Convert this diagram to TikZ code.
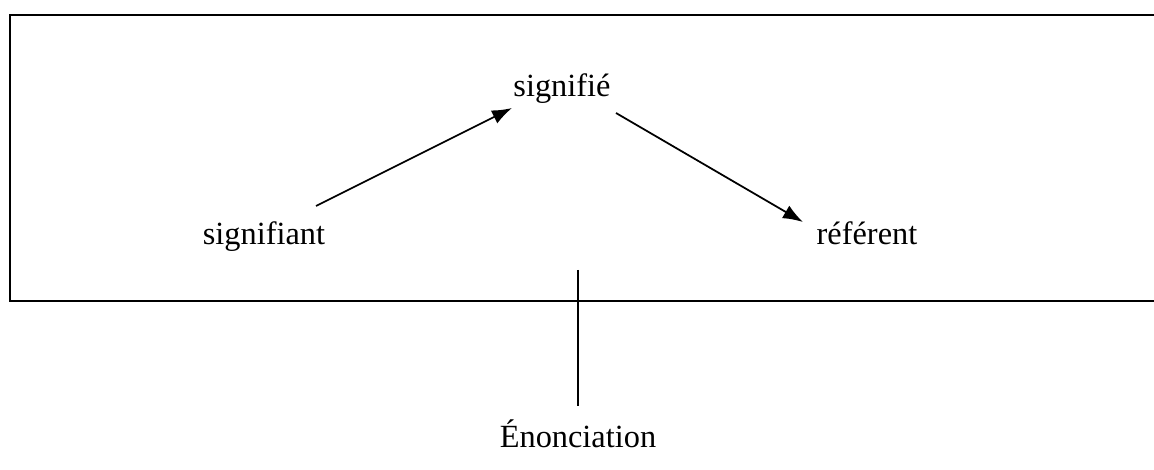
\documentclass[tikz,border=0pt]{standalone}
\usepackage{fontspec}
\setmainfont{Liberation Serif}
\usetikzlibrary{arrows.meta}

\tikzset{
  mot/.style={anchor=base, inner sep=0pt, font=\fontsize{9.2}{11}\selectfont},
  fleche/.style={line width=0.5pt, -{Latex[length=2mm, width=1.45mm]}},
  trait/.style={line width=0.6pt}
}

\begin{document}
\begin{tikzpicture}[x=0.01cm, y=-0.01cm]
            \useasboundingbox (0,0) rectangle (1154,470);
            \clip (0,0) rectangle (1154,470);
            % cadre
            \draw[trait] (10,15) rectangle (1180,301);

            \node[mot] (signifie) at (562,97) {signifié};
            \node[mot] (signifiant) at (264,245) {signifiant};
            \node[mot] (referent) at (867,245) {référent};
            \node[mot] (enonciation) at (578,447) {Énonciation};

            \coordinate (d1) at (316,206);
            \coordinate (f1) at (512,108);
            \coordinate (d2) at (616,113);
            \coordinate (f2) at (803,222);
            \coordinate (haut) at (578,270);
            \coordinate (bas) at (578,406);

            \draw[fleche] (d1) -- (f1);
            \draw[fleche] (d2) -- (f2);
            \draw[trait] (haut) -- (bas);
        \end{tikzpicture}
\end{document}
